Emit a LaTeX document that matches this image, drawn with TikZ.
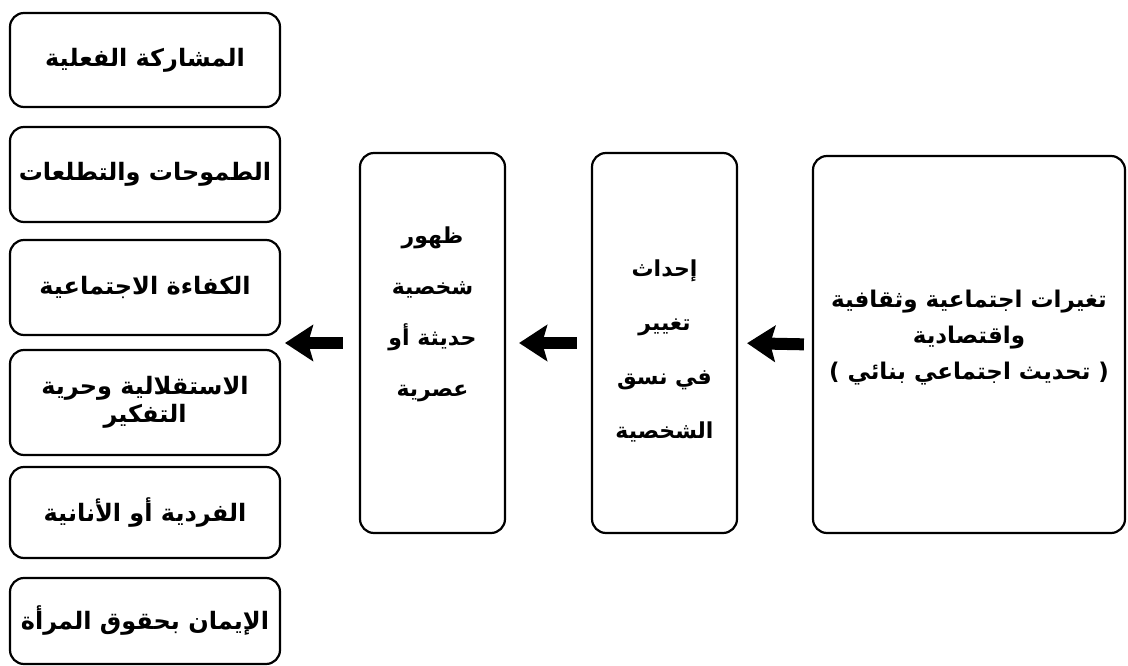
\documentclass[tikz,border=0pt]{standalone}
\usepackage{fontspec}
\newfontfamily\arabicfont[Script=Arabic]{DejaVu Sans}
\TeXXeTstate=1
\usetikzlibrary{arrows.meta,calc}
\newcommand{\AR}[1]{\beginR #1\endR}
\tikzset{
  box/.style={draw=black, line width=2.2pt, rounded corners=14pt, rectangle, inner sep=0pt, fill=white},
  lefttxt/.style={font=\arabicfont\bfseries\fontsize{24}{28}\selectfont, align=center, inner sep=0pt},
  midtxt/.style={font=\arabicfont\bfseries\fontsize{22}{51}\selectfont, align=center, inner sep=0pt},
  righttxt/.style={font=\arabicfont\bfseries\fontsize{23}{36}\selectfont, align=center, inner sep=0pt},
  bigarrow/.style={line width=12pt, -{Stealth[length=28pt,width=36pt,inset=5pt]}}
}
\begin{document}
\begin{tikzpicture}[x=1pt,y=-1pt]
\useasboundingbox (0,0) rectangle (1128,666);
\fill[white] (0,0) rectangle (1128,666);
% left column
\node[box, minimum width=270pt, minimum height=94pt] (b1) at (145,60) {};
\node[box, minimum width=270pt, minimum height=95pt] (b2) at (145,174.5) {};
\node[box, minimum width=270pt, minimum height=95pt] (b3) at (145,287.5) {};
\node[box, minimum width=270pt, minimum height=105pt] (b4) at (145,402.5) {};
\node[box, minimum width=270pt, minimum height=91pt] (b5) at (145,512.5) {};
\node[box, minimum width=270pt, minimum height=86pt] (b6) at (145,621) {};
\node[lefttxt] (t1) at (b1.center) {\AR{المشاركة الفعلية}};
\node[lefttxt] (t2) at (b2.center) {\AR{الطموحات والتطلعات}};
\node[lefttxt] (t3) at (b3.center) {\AR{الكفاءة الاجتماعية}};
\node[lefttxt] (t4) at (b4.center) {\AR{الاستقلالية وحرية}\\\AR{التفكير}};
\node[lefttxt] (t5) at (b5.center) {\AR{الفردية أو الأنانية}};
\node[lefttxt] (t6) at (b6.center) {\AR{الإيمان بحقوق المرأة}};
% middle and right boxes
\node[box, minimum width=145pt, minimum height=380pt] (ml) at (432.5,343) {};
\node[box, minimum width=145pt, minimum height=380pt] (m) at (664.5,343) {};
\node[box, minimum width=312pt, minimum height=377pt] (r) at (969,344.5) {};
\node[midtxt] (mlt) at ($(ml.center)+(0,-29)$) {\AR{ظهور}\\\AR{شخصية}\\\AR{حديثة أو}\\\AR{عصرية}};
\node[midtxt, font=\arabicfont\bfseries\fontsize{22}{54}\selectfont] (mt) at ($(m.center)+(0,8)$) {\AR{إحداث}\\\AR{تغيير}\\\AR{في نسق}\\\AR{الشخصية}};
\node[righttxt] (rt) at ($(r.center)+(0,-7)$) {\AR{تغيرات اجتماعية وثقافية}\\\AR{واقتصادية}\\\AR{( تحديث اجتماعي بنائي )}};
% arrows
\coordinate (lc) at (280,343);
\draw[bigarrow, shorten <=8pt, shorten >=9pt] (r.west) -- (m.east);
\draw[bigarrow, shorten <=14pt, shorten >=13pt] (m.west) -- (ml.east);
\draw[bigarrow, shorten <=16pt, shorten >=5pt] (ml.west) -- (lc);
\end{tikzpicture}
\end{document}
